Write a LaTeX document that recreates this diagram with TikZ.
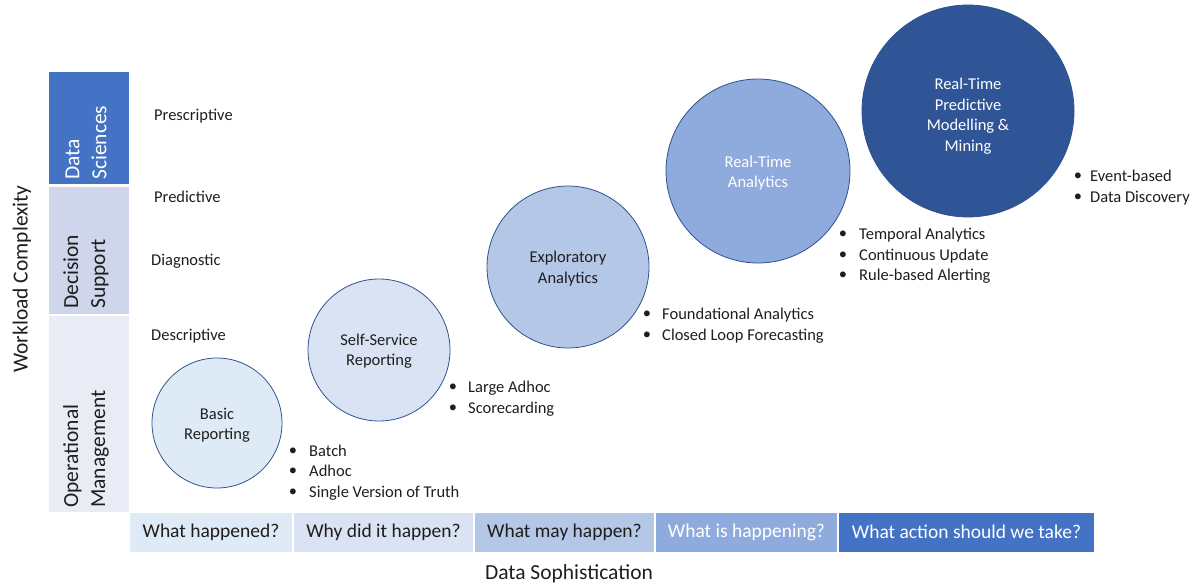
\documentclass[tikz,border=0pt]{standalone}
\usepackage{fontspec}
\setmainfont{Carlito}
\definecolor{cA}{HTML}{DEEBF7}
\definecolor{cB}{HTML}{DAE3F3}
\definecolor{cC}{HTML}{B4C7E7}
\definecolor{cD}{HTML}{8FAADC}
\definecolor{cE}{HTML}{4472C4}
\definecolor{cF}{HTML}{2F5597}
\definecolor{cDS}{HTML}{CFD5EA}
\definecolor{cOM}{HTML}{E9EBF5}
\definecolor{edge}{HTML}{2F528F}
\definecolor{ink}{HTML}{1E1E1E}
\begin{document}
\begin{tikzpicture}[x=1pt,y=-1pt,
  every node/.style={text=ink},
  body/.style={font=\fontsize{16.5}{20.5}\selectfont},
  bigf/.style={font=\fontsize{21.5}{27}\selectfont},
  barf/.style={font=\fontsize{19.5}{23}\selectfont},
  bubble/.style={circle, draw=edge, line width=0.8pt, inner sep=0pt},
  btext/.style={align=center, inner sep=0pt, body},
  sidebox/.style={rectangle, inner sep=0pt, minimum width=80pt, anchor=center},
  sidelab/.style={rotate=90, anchor=west, align=left, inner sep=0pt, bigf},
  barbox/.style={rectangle, inner sep=0pt, minimum height=39pt, anchor=center, barf},
  rowlab/.style={anchor=west, inner sep=0pt, body, text height=11.5pt, text depth=3.5pt, yshift=-2pt},
  item/.style={anchor=west, inner sep=0pt, body, text height=11.5pt, text depth=3.5pt, yshift=-2pt},
  dot/.style={anchor=center, inner sep=0pt, body, yshift=-2pt}
]
\useasboundingbox (0,0) rectangle (1199,584);

% left side boxes
\node[sidebox, fill=cE, minimum height=112pt] (ds) at (89,128) {};
\node[sidebox, fill=cDS, minimum height=127pt] (dsu) at (89,250.5) {};
\node[sidebox, fill=cOM, minimum height=196pt] (om) at (89,414) {};
\node[sidelab, text=white] (dsl) at (86,180) {Data\\Sciences};
\node[sidelab] (dsul) at (86,309) {Decision\\Support};
\node[sidelab] (oml) at (86,508) {Operational\\Management};

\node[rotate=90, bigf, inner sep=0pt] (wc) at (22,279) {Workload Complexity};

% row labels
\node[rowlab] (r1) at (154,114) {Prescriptive};
\node[rowlab] (r2) at (154,196) {Predictive};
\node[rowlab] (r3) at (151,259) {Diagnostic};
\node[rowlab] (r4) at (151,334) {Descriptive};

% bubbles
\node[bubble, fill=cA, minimum size=130pt] (c1) at (217,423) {};
\node[btext] (c1t) at (217,425) {Basic\\Reporting};
\node[bubble, fill=cB, minimum size=142pt] (c2) at (379,350) {};
\node[btext] (c2t) at (379,351) {Self-Service\\Reporting};
\node[bubble, fill=cC, minimum size=162pt] (c3) at (568,267) {};
\node[btext] (c3t) at (568,268.5) {Exploratory\\Analytics};
\node[bubble, fill=cD, minimum size=184pt] (c4) at (758,171) {};
\node[btext, text=white] (c4t) at (758,173) {Real-Time\\Analytics};
\node[bubble, fill=cF, minimum size=212pt] (c5) at (968,111) {};
\node[btext, text=white] (c5t) at (968,116) {Real-Time\\Predictive\\Modelling \&\\Mining};

% bullet lists
\foreach \n/\y/\t in {a/450/Batch, b/470/Adhoc, c/491/Single Version of Truth}{
  \node[dot] (d1\n) at (293,\y) {•};
  \node[item] (t1\n) at (309,\y) {\t};
}
\foreach \n/\y/\t in {a/386/Large Adhoc, b/407/Scorecarding}{
  \node[dot] (d2\n) at (453,\y) {•};
  \node[item] (t2\n) at (468,\y) {\t};
}
\foreach \n/\y/\t in {a/313/Foundational Analytics, b/334/Closed Loop Forecasting}{
  \node[dot] (d3\n) at (647,\y) {•};
  \node[item] (t3\n) at (662,\y) {\t};
}
\foreach \n/\y/\t in {a/233/Temporal Analytics, b/254/Continuous Update, c/274/Rule-based Alerting}{
  \node[dot] (d4\n) at (843,\y) {•};
  \node[item] (t4\n) at (859,\y) {\t};
}
\foreach \n/\y/\t in {a/175/Event-based, b/196/Data Discovery}{
  \node[dot] (d5\n) at (1078,\y) {•};
  \node[item] (t5\n) at (1090,\y) {\t};
}

% bottom bar
\node[barbox, fill=cA, minimum width=162pt] (q1) at (211,532) {What happened?};
\node[barbox, fill=cB, minimum width=179pt] (q2) at (383.5,532) {Why did it happen?};
\node[barbox, fill=cC, minimum width=179pt] (q3) at (564.5,532) {What may happen?};
\node[barbox, fill=cD, minimum width=181pt, text=white] (q4) at (746.5,532) {What is happening?};
\node[barbox, fill=cE, minimum width=255pt, text=white] (q5) at (966.5,532) {What action should we take?};

\node[bigf, inner sep=0pt] (xs) at (569,574) {Data Sophistication};
\end{tikzpicture}
\end{document}
